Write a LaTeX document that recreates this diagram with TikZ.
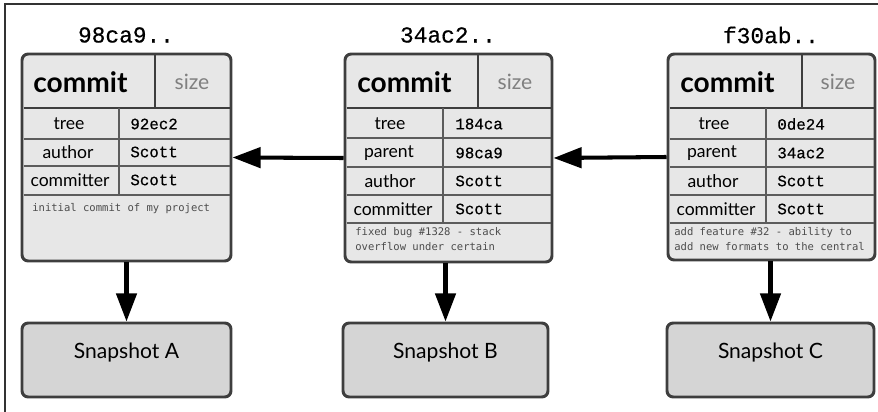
\documentclass[tikz,border=0pt]{standalone}
\usepackage{fontspec}
\setmainfont{Lato}
\newfontfamily\hashfont{Liberation Mono}[FakeBold=0.5]
\newfontfamily\notefont{DejaVu Sans Mono}
\usetikzlibrary{arrows.meta,fit,positioning}
\definecolor{boxgray}{HTML}{E7E7E7}
\definecolor{snapgray}{HTML}{D5D5D5}
\definecolor{edgegray}{HTML}{3E3E3E}
\definecolor{rulegray}{HTML}{5C5C5C}

\begin{document}
\begin{tikzpicture}[x=0.2mm,y=-0.2mm,
	commitbox/.style={draw=edgegray,fill=boxgray,line width=1.7pt,rounded corners=3.5pt,inner sep=0pt},
	snapbox/.style={draw=edgegray,fill=snapgray,line width=1.7pt,rounded corners=3.5pt,inner sep=0pt,font=\fontsize{12}{14}\selectfont},
	rowrule/.style={draw=rulegray,line width=1.1pt},
	headrule/.style={draw=edgegray,line width=1.6pt},
	hashtext/.style={font=\hashfont\fontsize{13}{15}\selectfont,inner sep=0pt},
	headtext/.style={font=\bfseries\fontsize{16}{18}\selectfont,anchor=west,inner sep=0pt},
	sizetext/.style={font=\fontsize{12}{14}\selectfont,text=black!50,inner sep=0pt},
	fieldtext/.style={font=\fontsize{10}{12}\selectfont,inner sep=0pt},
	valuetext/.style={font=\hashfont\fontsize{9}{11}\selectfont,anchor=west,inner sep=0pt},
	notetext/.style={font=\notefont\fontsize{6}{8.5}\selectfont,text=black!70,anchor=north west,align=left,inner sep=0pt},
	link/.style={line width=2.3pt,-{Triangle[length=16pt,width=11.5pt]}}]
			%%%%% START %%%%%
			\useasboundingbox (0,0) rectangle (878,412);
			\draw[line width=0.8pt,color=black!80] (5,412) -- (5,4) -- (878,4);
			
			% commit 98ca9
			\node[hashtext] (h1) at (126,35) {98ca9..};
			\node[commitbox, fit={(22,54) (231,261)}] (c1) {};
			\draw[headrule] (23.5,108) -- (229.5,108);
			\draw[headrule] (155,55.5) -- (155,108);
			\draw[rowrule] (23.5,139) -- (229.5,139);
			\draw[rowrule] (23.5,166) -- (229.5,166);
			\draw[rowrule] (23.5,195) -- (229.5,195);
			\draw[rowrule] (119,108) -- (119,195);
			\node[headtext] (k1) at (33,82) {commit};
			\node[sizetext] (s1) at (192,82) {size};
			\node[fieldtext] (f1a) at (69,124) {tree};
			\node[fieldtext] (f1b) at (68,152) {author};
			\node[fieldtext] (f1c) at (70,180) {committer};
			\node[valuetext] (v1a) at (130,124) {92ec2};
			\node[valuetext] (v1b) at (130,152) {Scott};
			\node[valuetext] (v1c) at (130,180) {Scott};
			\node[notetext] (n1) at (32,203) {initial commit of my project};
			
			% commit 34ac2
			\node[hashtext] (h2) at (448,35) {34ac2..};
			\node[commitbox, fit={(345,54) (552,262)}] (c2) {};
			\draw[headrule] (346.5,108) -- (550.5,108);
			\draw[headrule] (478,55.5) -- (478,108);
			\draw[rowrule] (346.5,138) -- (550.5,138);
			\draw[rowrule] (346.5,167) -- (550.5,167);
			\draw[rowrule] (346.5,195) -- (550.5,195);
			\draw[rowrule] (346.5,223) -- (550.5,223);
			\draw[rowrule] (443,108) -- (443,223);
			\node[headtext] (k2) at (357,82) {commit};
			\node[sizetext] (s2) at (515,82) {size};
			\node[fieldtext] (f2a) at (390,124) {tree};
			\node[fieldtext] (f2b) at (389,153) {parent};
			\node[fieldtext] (f2c) at (390,181) {author};
			\node[fieldtext] (f2d) at (393,209) {committer};
			\node[valuetext] (v2a) at (455,124) {184ca};
			\node[valuetext] (v2b) at (455,153) {98ca9};
			\node[valuetext] (v2c) at (455,181) {Scott};
			\node[valuetext] (v2d) at (455,209) {Scott};
			\node[notetext] (n2) at (355,227) {fixed bug \#1328 - stack\\overflow under certain};
			
			% commit f30ab
			\node[hashtext] (h3) at (771,35) {f30ab..};
			\node[commitbox, fit={(668,54) (875,260)}] (c3) {};
			\draw[headrule] (669.5,108) -- (873.5,108);
			\draw[headrule] (802,55.5) -- (802,108);
			\draw[rowrule] (669.5,139) -- (873.5,139);
			\draw[rowrule] (669.5,167) -- (873.5,167);
			\draw[rowrule] (669.5,195) -- (873.5,195);
			\draw[rowrule] (669.5,223) -- (873.5,223);
			\draw[rowrule] (766,108) -- (766,223);
			\node[headtext] (k3) at (680,82) {commit};
			\node[sizetext] (s3) at (838,82) {size};
			\node[fieldtext] (f3a) at (714,124) {tree};
			\node[fieldtext] (f3b) at (712,153) {parent};
			\node[fieldtext] (f3c) at (713,181) {author};
			\node[fieldtext] (f3d) at (716,209) {committer};
			\node[valuetext] (v3a) at (777,124) {0de24};
			\node[valuetext] (v3b) at (777,153) {34ac2};
			\node[valuetext] (v3c) at (777,181) {Scott};
			\node[valuetext] (v3d) at (777,209) {Scott};
			\node[notetext] (n3) at (674,227) {add feature \#32 - ability to\\add new formats to the central};
			
			% snapshots
			\node[snapbox, fit={(22,323) (231,397)}] (sa) {Snapshot A};
			\node[snapbox, fit={(343,323) (548,397)}] (sb) {Snapshot B};
			\node[snapbox, fit={(667,323) (874,397)}] (sc) {Snapshot C};
			
			% links
			\draw[link] (c2.west) -- (c1.east);
			\draw[link] (c3.west) -- (c2.east);
			\draw[link] (sa.north |- c1.south) -- (sa.north);
			\draw[link] (sb.north |- c2.south) -- (sb.north);
			\draw[link] (sc.north |- c3.south) -- (sc.north);
			%%%%% END %%%%%
\end{tikzpicture}
\end{document}
